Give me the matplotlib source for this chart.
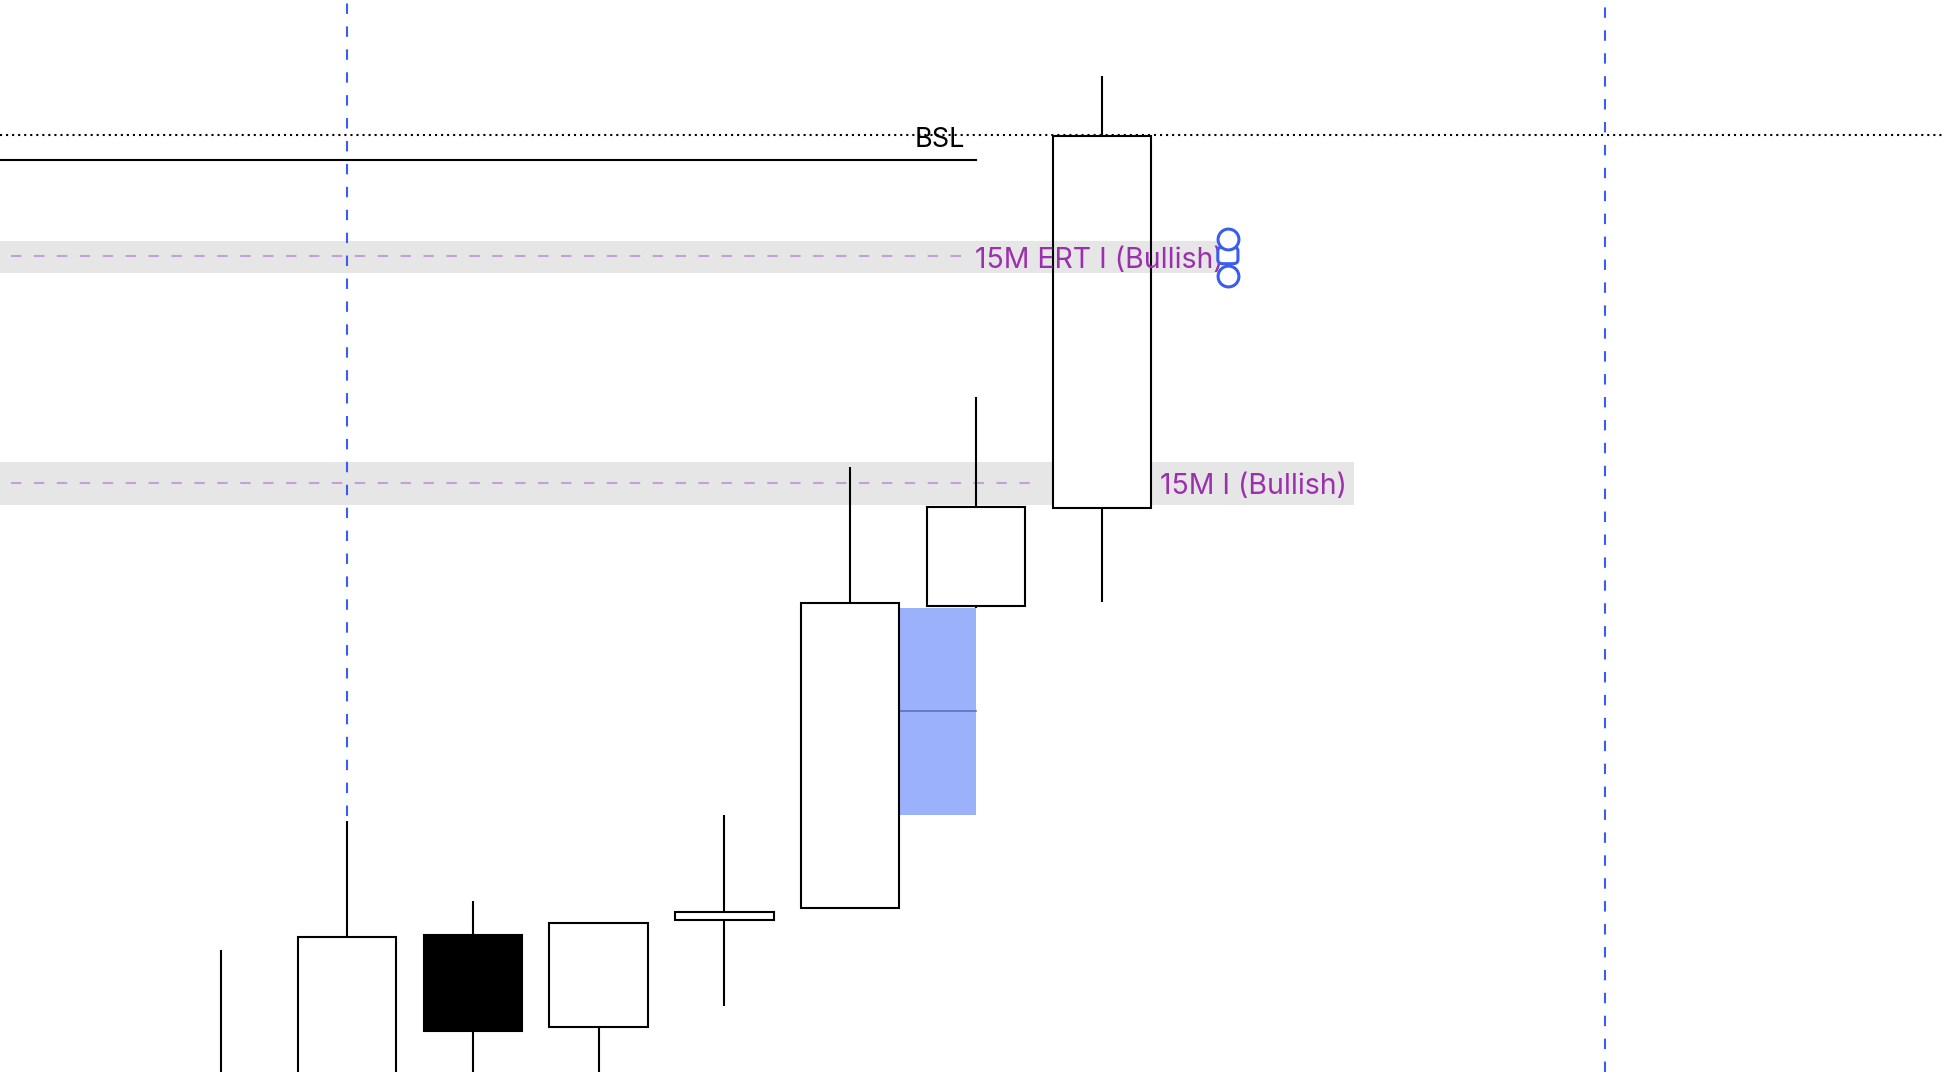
import matplotlib
matplotlib.use("Agg")
import matplotlib.pyplot as plt
from matplotlib.patches import Rectangle, FancyBboxPatch

plt.rcParams['font.family'] = ['Inter', 'DejaVu Sans']

# candles (index, open, high, low, close); the lowest ones run off the bottom of the view
idx    = [0, 1, 2, 3, 4, 5, 6, 7]
opens  = [19975.0, 19990.0, 20034.25, 20011.25, 20038.0, 20041.0, 20116.5, 20141.0]
highs  = [20030.5, 20062.75, 20042.75, 20037.25, 20064.25, 20151.25, 20168.6, 20249.0]
lows   = [19965.0, 19980.0, 19985.0, 19995.0, 20016.5, 20041.0, 20116.0, 20117.5]
closes = [19992.0, 20033.75, 20010.25, 20037.25, 20040.0, 20117.25, 20141.25, 20234.0]

# levels
bsl_dotted = 20234.25          # dotted line across the whole chart
bsl_level = 20228.0            # solid BSL line
bsl_end = 6
ert_zone = (20199.75, 20207.75)
ert_mid = 20203.8
ert_label = "15M ERT I (Bullish)"
i_zone = (20141.75, 20152.5)
i_mid = 20147.3
i_label = "15M I (Bullish)"
fvg = (20064.25, 20116.0)       # candle 5 high -> candle 7 low
session_lines = [1, 11]

W = 0.78
fig = plt.figure(figsize=(19.42, 10.724), dpi=100)
ax = fig.add_axes([0, 0, 1, 1])
ax.set_xlim(-1.756, 13.674)
ax.set_ylim(20000, 20268)
ax.axis('off')

lw = 1.5
purple = '#9b2fae'
lav = '#c4a0d6'
blue = '#3a5cf0'

# 15M I zone (under candles)
ax.fill_between([-2, 9.0], i_zone[0], i_zone[1], color='#e6e6e6', lw=0, zorder=1)
ax.plot([-1.67, 6.52], [i_mid, i_mid], color=lav, lw=lw, ls=(0, (5, 6)), zorder=1.5)
ax.text(7.46, 20144.5, i_label, color=purple, fontsize=20.5, va='baseline', ha='left', zorder=6)

# FVG
ax.add_patch(Rectangle((5 + W / 2, fvg[0]), 6 - 5 - W / 2, fvg[1] - fvg[0],
                       facecolor='#9bb1f9', edgecolor='none', zorder=2))
ax.plot([5 + W / 2, 6], [sum(fvg) / 2] * 2, color='#5a6fc4', lw=1.2, zorder=2.1)

# candles
for i, o, h, l, c in zip(idx, opens, highs, lows, closes):
    top, bot = max(o, c), min(o, c)
    ax.plot([i, i], [top, h], color='black', lw=lw, zorder=3, solid_capstyle='butt')
    ax.plot([i, i], [l, bot], color='black', lw=lw, zorder=3, solid_capstyle='butt')
    face = 'white' if c >= o else 'black'
    ax.add_patch(Rectangle((i - W / 2, bot), W, top - bot, facecolor=face,
                           edgecolor='black', lw=lw, zorder=3.5))

# ERT zone (above candles)
ax.fill_between([-2, 7.91], ert_zone[0], ert_zone[1], color='black', alpha=0.098, lw=0, zorder=4)
ax.plot([-1.67, 5.9], [ert_mid, ert_mid], color=lav, lw=lw, ls=(0, (5, 6)), zorder=4.1)
ax.text(5.99, 20201.0, ert_label, color=purple, fontsize=20.5, va='baseline', ha='left', zorder=6)

# handles of the ERT zone
ax.add_patch(FancyBboxPatch((7.92, 20202.0), 0.16, 4.2, boxstyle='round,pad=0,rounding_size=0.04',
                            mutation_aspect=25, facecolor='white', edgecolor=blue, lw=2.2, zorder=7))
ax.plot([8.0, 8.0], [ert_zone[1] + 0.5, ert_zone[0] - 0.75], 'o', ms=15, mfc='white', mec=blue,
        mew=2.2, ls='none', zorder=8)

# BSL lines
ax.axhline(bsl_dotted, color='black', lw=lw, ls=(0, (1, 1.9)), zorder=5)
ax.plot([-2, bsl_end], [bsl_level, bsl_level], color='black', lw=lw, zorder=5)
ax.text(bsl_end - 0.29, bsl_level + 3.3, "BSL", color='black', fontsize=19.5, ha='center',
        va='baseline', zorder=6)

# session vertical lines
ax.plot([session_lines[0]] * 2, [highs[1] + 1.2, 20270], color=blue, lw=lw, ls=(0, (5, 6)), zorder=5)
ax.axvline(session_lines[1], color=blue, lw=lw, ls=(0, (5, 6)), zorder=5)

fig.savefig('out.png', dpi=100)
